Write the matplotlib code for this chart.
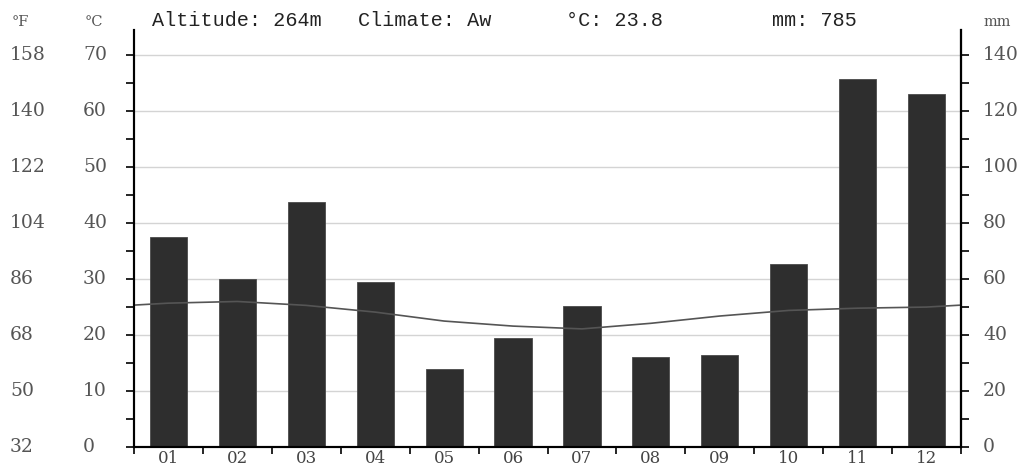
import matplotlib.pyplot as plt
import matplotlib.transforms as mtransforms
import numpy as np

months = ['01', '02', '03', '04', '05', '06', '07', '08', '09', '10', '11', '12']
precip_mm = [75, 60, 87.5, 59, 28, 39, 50.5, 32, 33, 65.5, 131.5, 126]
temp_c = [25.7, 26.0, 25.3, 24.1, 22.5, 21.6, 21.1, 22.1, 23.4, 24.4, 24.8, 25.0]
c_ticks = [0, 10, 20, 30, 40, 50, 60, 70]
mm_ticks = [0, 20, 40, 60, 80, 100, 120, 140]
header = [('Altitude: 264m', 152), ('Climate: Aw', 358), ('°C: 23.8', 566), ('mm: 785', 772)]

W, H = 1024, 468
fig = plt.figure(figsize=(W / 100, H / 100), dpi=100)
ax2 = fig.add_axes([134 / W, 21 / H, (961 - 134) / W, (447 - 30) / H])
ax = ax2.twinx()
ax.set_zorder(ax2.get_zorder() + 1)
ax.patch.set_visible(False)

ymax_c = 74.5
ax.set_ylim(0, ymax_c)
ax2.set_ylim(0, ymax_c * 2)
x = np.arange(12)
ax2.set_xlim(-0.5, 11.5)

# bars + grid on the mm axis
ax2.set_axisbelow(True)
ax2.bar(x, precip_mm, width=0.54, color='#2e2e2e', edgecolor='#4a4a4a', linewidth=0.6, zorder=2)
for t in mm_ticks[1:]:
    ax2.axhline(t, color='#d4d4d4', lw=1.0, zorder=1)

# temperature line, wrapped to the edges
edge = (temp_c[0] + temp_c[-1]) / 2
ax.plot(np.r_[-0.5, x, 11.5], [edge] + temp_c + [edge], color='#555555', lw=1.2)
ax.set_yticks([])
ax.set_xticks([])

for a in (ax, ax2):
    a.spines['top'].set_visible(False)
    for s in ('left', 'right', 'bottom'):
        a.spines[s].set_linewidth(1.5)
        a.spines[s].set_color('black')

# left ticks every 5 °C (10 mm), labels placed by hand
ax2.yaxis.tick_left()
ax2.set_yticks(np.arange(0, ymax_c * 2, 10))
ax2.set_yticklabels([])
ax2.tick_params(axis='y', length=6, width=1.2, direction='out')

# right ticks every 10 mm
ax3 = ax2.twinx()
ax3.set_ylim(0, ymax_c * 2)
ax3.set_yticks(np.arange(0, ymax_c * 2, 10))
ax3.set_yticklabels([])
ax3.tick_params(axis='y', length=6, width=1.2, direction='out')
for s in ('top', 'left', 'bottom'):
    ax3.spines[s].set_visible(False)
ax3.spines['right'].set_linewidth(1.5)

# x axis: ticks at month boundaries, labels at centres
ax2.set_xticks(np.arange(-0.5, 12, 1))
ax2.set_xticklabels([])
ax2.tick_params(axis='x', length=5, width=1.2, direction='out')
ax2.set_xticks(x, minor=True)
ax2.set_xticklabels(months, minor=True, fontsize=12, color='#444444', family='DejaVu Serif')
ax2.tick_params(axis='x', which='minor', length=0, pad=2)

lab = dict(fontsize=13.5, color='#555555', family='DejaVu Serif', va='center')
trc = mtransforms.blended_transform_factory(fig.transFigure, ax.transData)
for c in c_ticks:
    ax.text(10 / W, c, str(round(c * 9 / 5 + 32)), transform=trc, ha='left', **lab)
    ax.text(83 / W, c, str(c), transform=trc, ha='left', **lab)
trm = mtransforms.blended_transform_factory(fig.transFigure, ax2.transData)
for m in mm_ticks:
    ax2.text(983 / W, m, str(m), transform=trm, ha='left', **lab)

unit = dict(fontsize=10.5, color='#555555', family='DejaVu Serif', va='center')
fig.text(12 / W, 1 - 22 / H, '°F', **unit)
fig.text(85 / W, 1 - 22 / H, '°C', **unit)
fig.text(983 / W, 1 - 22 / H, 'mm', **unit)
for txt, px in header:
    fig.text(px / W, 1 - 21 / H, txt, fontsize=14.5, family='Liberation Mono', color='#222222', va='center')

fig.savefig('out.png', dpi=100)
